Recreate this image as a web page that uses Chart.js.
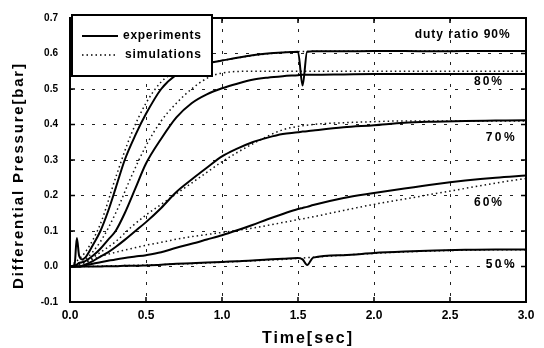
<!DOCTYPE html>
<html>
<head>
<meta charset="utf-8">
<script src="https://cdn.jsdelivr.net/npm/chart.js@4.4.1/dist/chart.umd.min.js"></script>
<style>
  html, body { margin: 0; padding: 0; background: #fff; }
</style>
</head>
<body>
<canvas id="myChart" width="544" height="348"></canvas>
<script>

// measured curves (time in sec, pressure in bar)
const timeExp = [0, 0.03, 0.045, 0.06, 0.08, 0.1, 0.15, 0.2, 0.25, 0.3, 0.36, 0.43, 0.5, 0.6, 0.7, 0.8, 0.9,
                 1.0, 1.1, 1.2, 1.3, 1.4, 1.5, 1.53, 1.56, 1.6, 1.8, 2.0, 2.2, 2.4, 2.6, 2.8, 3.0];
const exp90 = [0, 0.005, 0.08, 0.03, 0.02, 0.025, 0.06, 0.1, 0.155, 0.22, 0.3, 0.37, 0.43, 0.5, 0.54, 0.56, 0.572,
               0.58, 0.588, 0.595, 0.6, 0.603, 0.605, 0.51, 0.605, 0.606, 0.606, 0.607, 0.607, 0.606, 0.607, 0.607, 0.607];
const exp80 = [0, 0, 0.005, 0.01, 0.012, 0.015, 0.03, 0.05, 0.075, 0.1, 0.15, 0.22, 0.29, 0.36, 0.42, 0.46, 0.485,
               0.502, 0.515, 0.526, 0.532, 0.536, 0.539, 0.54, 0.54, 0.54, 0.541, 0.542, 0.542, 0.542, 0.542, 0.542, 0.542];
const exp70 = [0, 0, 0, 0, 0.002, 0.005, 0.015, 0.028, 0.04, 0.055, 0.075, 0.1, 0.125, 0.165, 0.21, 0.245, 0.278,
               0.31, 0.332, 0.35, 0.363, 0.373, 0.378, 0.38, 0.381, 0.383, 0.392, 0.398, 0.405, 0.408, 0.41, 0.411, 0.412];
const exp60 = [0, 0, 0, 0, 0.001, 0.003, 0.008, 0.012, 0.016, 0.02, 0.024, 0.028, 0.032, 0.04, 0.053, 0.064, 0.076,
               0.088, 0.102, 0.117, 0.133, 0.148, 0.162, 0.165, 0.168, 0.173, 0.193, 0.207, 0.22, 0.232, 0.242, 0.25, 0.256];
const exp50 = [0, 0, 0, 0, 0, 0, 0, 0, 0.001, 0.001, 0.002, 0.002, 0.003, 0.005, 0.008, 0.009, 0.011,
               0.013, 0.015, 0.017, 0.02, 0.022, 0.024, 0.02, 0.004, 0.025, 0.032, 0.038, 0.042, 0.045, 0.047, 0.048, 0.048];

// simulated curves
const timeSim = [0, 0.1, 0.2, 0.3, 0.4, 0.5, 0.6, 0.7, 0.8, 0.9, 1.0, 1.2, 1.4, 1.6, 1.8, 2.0, 2.2, 2.4, 2.6, 2.8, 3.0];
const sim90 = [0, 0.04, 0.12, 0.25, 0.37, 0.46, 0.52, 0.55, 0.565, 0.573, 0.58, 0.594, 0.603, 0.606, 0.606, 0.607, 0.607, 0.607, 0.607, 0.607, 0.607];
const sim80 = [0, 0.02, 0.07, 0.15, 0.25, 0.34, 0.41, 0.46, 0.5, 0.53, 0.545, 0.55, 0.55, 0.55, 0.55, 0.55, 0.55, 0.55, 0.55, 0.55, 0.55];
const sim70 = [0, 0.012, 0.04, 0.07, 0.11, 0.145, 0.175, 0.205, 0.235, 0.265, 0.295, 0.345, 0.385, 0.4, 0.405, 0.408, 0.41, 0.41, 0.41, 0.41, 0.41];
const sim60 = [0, 0.012, 0.028, 0.04, 0.05, 0.06, 0.068, 0.077, 0.084, 0.09, 0.096, 0.108, 0.124, 0.14, 0.158, 0.175, 0.19, 0.205, 0.22, 0.235, 0.248];
const sim50 = [0, 0, 0.001, 0.002, 0.003, 0.004, 0.005, 0.007, 0.008, 0.01, 0.012, 0.016, 0.02, 0.026, 0.032, 0.037, 0.041, 0.044, 0.046, 0.047, 0.047];

const dutyLabels = ['duty ratio 90%', '80%', '70%', '60%', '50%'];
const legendLabels = ['experiments', 'simulations'];
const xTitle = 'Time[sec]';
const yTitle = 'Differential Pressure[bar]';


function toPoints(times, values) {
    return times.map((t, i) => ({x: t, y: values[i]}));
}

function expLine(values) {
    return {
        data: toPoints(timeExp, values),
        borderColor: '#000',
        borderWidth: 2,
        pointRadius: 0,
        cubicInterpolationMode: 'monotone',
        showLine: true,
    };
}

function simLine(values) {
    return {
        data: toPoints(timeSim, values),
        borderColor: '#111',
        borderWidth: 1.5,
        borderDash: [1.5, 3],
        pointRadius: 0,
        cubicInterpolationMode: 'monotone',
        showLine: true,
    };
}

function fmt(v) {
    return (Math.abs(v) < 1e-9 ? 0 : v).toFixed(1);
}

// draws text stretched out to a given width with letter spacing
function spacedText(ctx, text, left, y, width) {
    ctx.letterSpacing = '0px';
    const w = ctx.measureText(text).width;
    const ls = Math.max(0, (width - w) / (text.length - 1));
    ctx.letterSpacing = ls + 'px';
    ctx.textAlign = 'left';
    ctx.fillText(text, left, y);
    ctx.letterSpacing = '0px';
}

const decorations = {
    id: 'decorations',
    afterDatasetsDraw(chart) {
        const {ctx, chartArea: a, scales: {x, y}} = chart;
        ctx.save();
        ctx.fillStyle = '#000';
        ctx.strokeStyle = '#000';

        // inward ticks
        ctx.lineWidth = 1.5;
        ctx.beginPath();
        x.ticks.forEach(t => {
            const px = x.getPixelForValue(t.value);
            ctx.moveTo(px, a.bottom); ctx.lineTo(px, a.bottom - 5);
            ctx.moveTo(px, a.top); ctx.lineTo(px, a.top + 5);
        });
        y.ticks.forEach(t => {
            const py = y.getPixelForValue(t.value);
            ctx.moveTo(a.left, py); ctx.lineTo(a.left + 5, py);
            ctx.moveTo(a.right, py); ctx.lineTo(a.right - 5, py);
        });
        ctx.stroke();

        // frame
        ctx.lineWidth = 2;
        ctx.strokeRect(a.left, a.top, a.right - a.left, a.bottom - a.top);

        // legend box
        ctx.fillStyle = '#fff';
        ctx.fillRect(a.left + 2, a.top - 3, 140, 61);
        ctx.lineWidth = 2;
        ctx.strokeRect(a.left + 2, a.top - 3, 140, 61);
        ctx.beginPath();
        ctx.lineWidth = 2;
        ctx.moveTo(a.left + 12, a.top + 18); ctx.lineTo(a.left + 48, a.top + 18);
        ctx.stroke();
        ctx.beginPath();
        ctx.lineWidth = 1.5;
        ctx.setLineDash([1.5, 3]);
        ctx.moveTo(a.left + 12, a.top + 37); ctx.lineTo(a.left + 46, a.top + 37);
        ctx.stroke();
        ctx.setLineDash([]);

        ctx.fillStyle = '#000';
        ctx.font = 'bold 12px "Liberation Sans", Arial, sans-serif';
        ctx.textBaseline = 'middle';
        spacedText(ctx, legendLabels[0], a.left + 53, a.top + 18, 78);
        spacedText(ctx, legendLabels[1], a.left + 55, a.top + 37, 76);

        // duty ratio labels
        ctx.font = 'bold 12px "Liberation Sans", Arial, sans-serif';
        const spots = [[2.58, 0.653, 95], [2.75, 0.52, 28], [2.83, 0.364, 29], [2.75, 0.179, 28], [2.83, 0.005, 29]];
        dutyLabels.forEach((txt, i) => {
            const [tx, ty, w] = spots[i];
            spacedText(ctx, txt, x.getPixelForValue(tx) - w / 2, y.getPixelForValue(ty), w);
        });

        // axis titles
        ctx.font = 'bold 16px "Liberation Sans", Arial, sans-serif';
        spacedText(ctx, xTitle, 262, 339, 90);
        ctx.translate(19, 177);
        ctx.rotate(-Math.PI / 2);
        ctx.font = 'bold 15px "Liberation Sans", Arial, sans-serif';
        spacedText(ctx, yTitle, -112, 0, 225);
        ctx.restore();
    }
};

const data = {
    datasets: [
        expLine(exp90), expLine(exp80), expLine(exp70), expLine(exp60), expLine(exp50),
        simLine(sim90), simLine(sim80), simLine(sim70), simLine(sim60), simLine(sim50),
    ],
};

const config = {
    type: 'scatter',
    data: data,
    options: {
        responsive: false,
        animation: false,
        devicePixelRatio: 1,
        layout: {
            padding: {top: 15, right: 18, left: 0, bottom: 0}
        },
        plugins: {
            legend: {display: false},
            tooltip: {enabled: false},
        },
        scales: {
            x: {
                type: 'linear',
                min: 0,
                max: 3,
                afterFit(scale) { scale.height = 46; },
                ticks: {
                    stepSize: 0.5,
                    padding: 6,
                    color: '#000',
                    font: {family: '"Liberation Sans", Arial, sans-serif', size: 12, weight: 'bold'},
                    callback: fmt,
                    maxRotation: 0,
                },
                grid: {color: '#222', lineWidth: 1, drawTicks: false},
                border: {display: false, dash: [3, 8]},
            },
            y: {
                min: -0.1,
                max: 0.7,
                afterFit(scale) { scale.width = 70; },
                ticks: {
                    stepSize: 0.1,
                    padding: 12,
                    color: '#000',
                    font: {family: '"Liberation Sans", Arial, sans-serif', size: 10, weight: 'bold'},
                    callback: fmt,
                },
                grid: {color: '#222', lineWidth: 1, drawTicks: false},
                border: {display: false, dash: [3, 8]},
            }
        }
    },
    plugins: [decorations],
};

const ctx = document.getElementById('myChart');
let myChart = new Chart(ctx, config);

</script>
</body>
</html>
